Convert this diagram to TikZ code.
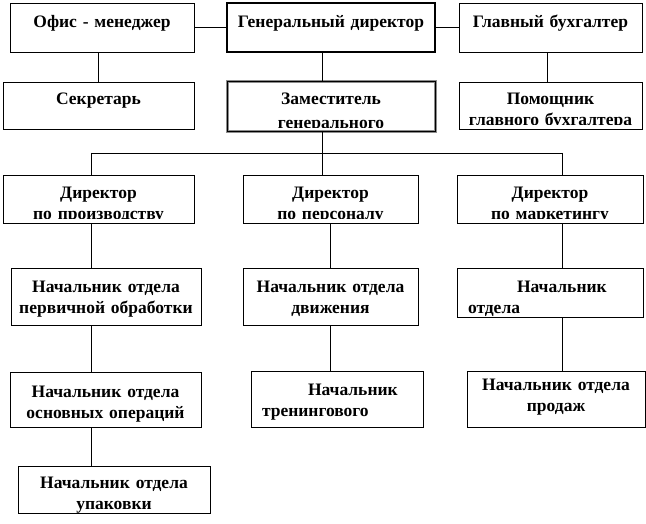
\documentclass[tikz,border=0pt]{standalone}
\usepackage{fontspec}
\setmainfont{Liberation Serif}
\usetikzlibrary{calc}
\tikzset{
 box/.style n args={3}{draw,line width=0.8pt,inner xsep=3pt,inner ysep=0pt,minimum width=#1,minimum height=#2,
  text width={#1pt-6pt},align=center,text height=#3pt,text depth={#2pt-#3pt},font=\fontsize{17.5}{21}\selectfont\bfseries},
 chief/.style={line width=2.6pt},
 deputy/.style={draw=black!45,line width=1pt,double=black,double distance=1pt},
 cutline/.style={anchor=base,inner sep=0pt,font=\fontsize{17.5}{21}\selectfont\bfseries},
 link/.style={line width=0.8pt}
}
\newcommand{\lowtext}[1]{\clip ([yshift=4pt]path picture bounding box.south west) rectangle (path picture bounding box.north east);
 \node[cutline] at ([yshift=3pt]path picture bounding box.south) {#1};}
\begin{document}
\begin{tikzpicture}[x=1pt,y=-1pt]
\useasboundingbox (0,0) rectangle (646,524);
\node[box={184}{49}{25}] (ofis) at (102,27.5) {Офис - менеджер};
\node[box={208}{49}{25},chief] (gen) at (331,27.5) {Генеральный директор};
\node[box={183}{49}{25}] (glav) at (550.5,27.5) {Главный бухгалтер};

\node[box={191}{47}{23}] (sekr) at (98.5,105.5) {Секретарь};
\node[box={208}{50}{23},deputy,path picture=\lowtext{генерального}] (zam) at (331,107) {Заместитель};
\node[box={183}{47}{23},path picture=\lowtext{главного бухгалтера}] (pom) at (550.5,105.5) {Помощник};

\node[box={191}{48}{24},path picture=\lowtext{по производству}] (dir1) at (98.5,199) {Директор};
\node[box={175}{48}{24},path picture=\lowtext{по персоналу}] (dir2) at (330.5,199) {Директор};
\node[box={186}{48}{24},path picture=\lowtext{по маркетингу}] (dir3) at (550,199) {Директор};

\node[box={190}{57}{24}] (n1) at (106,296.5) {Начальник отдела\\первичной обработки};
\node[box={175}{57}{24}] (n2) at (330.5,296.5) {Начальник отдела\\движения};
\node[box={186}{49}{24},text width=164pt,align=left] (n3) at (550,292.5) {\hspace*{49pt}Начальник\\отдела};

\node[box={191}{55}{25}] (n4) at (105.5,399.5) {Начальник отдела\\основных операций};
\node[box={172}{56}{24},text width=150pt,align=left] (n5) at (337,399) {\hspace*{46pt}Начальник\\тренингового};
\node[box={178}{56}{19}] (n6) at (556,399) {Начальник отдела\\продаж};

\node[box={192}{47}{22}] (n7) at (114,489.5) {Начальник отдела\\упаковки};

\coordinate (b1) at (91,153);
\coordinate (b2) at (322,153);
\coordinate (b3) at (562,153);
\coordinate (s1) at (98,0);
\coordinate (s3) at (547,0);
\coordinate (c2) at (330,0);

\draw[link] (ofis) -- (gen) (gen) -- (glav);
\draw[link] (ofis.south -| s1) -- (sekr.north -| s1) (gen.south -| b2) -- (zam.north -| b2) (glav.south -| s3) -- (pom.north -| s3);
\draw[link] (zam.south -| b2) -- (b2) (b1) -- (b3);
\foreach \d/\b in {dir1/b1,dir2/b2,dir3/b3} \draw[link] (\b) -- (\d.north -| \b);
\draw[link] (dir1.south -| b1) -- (n1.north -| b1) (n1.south -| b1) -- (n4.north -| b1) (n4.south -| b1) -- (n7.north -| b1);
\draw[link] (dir2.south -| c2) -- (n2.north -| c2) (n2.south -| c2) -- (n5.north -| c2);
\draw[link] (dir3.south -| b3) -- (n3.north -| b3) (n3.south -| b3) -- (n6.north -| b3);
\end{tikzpicture}
\end{document}
